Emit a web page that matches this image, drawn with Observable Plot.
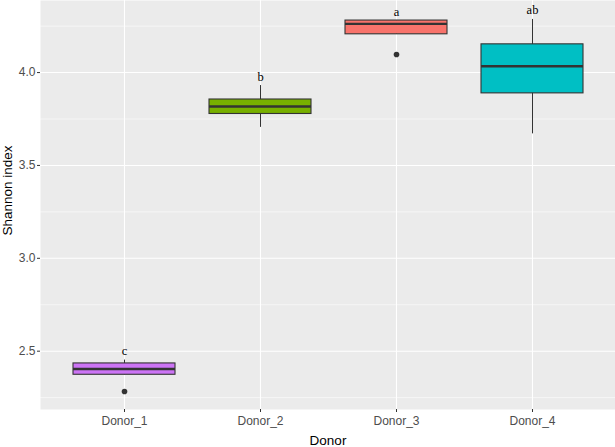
<!DOCTYPE html>
<html>
<head>
<meta charset="utf-8">
<script src="https://cdn.jsdelivr.net/npm/d3@7"></script>
<script src="https://cdn.jsdelivr.net/npm/@observablehq/plot@0.6"></script>
<style>
  html, body { margin: 0; padding: 0; background: #ffffff; }
  #chart svg { display: block; }
</style>
</head>
<body>
<div id="chart"></div>
<script>
// ---- data ----
const donors = ["Donor_1", "Donor_2", "Donor_3", "Donor_4"];
const whiskerLow = [2.373, 3.705, 4.206, 3.670];
const q1 = [2.373, 3.777, 4.206, 3.888];
const median = [2.404, 3.817, 4.262, 4.034];
const q3 = [2.434, 3.855, 4.280, 4.152];
const whiskerHigh = [2.452, 3.930, 4.280, 4.286];
const letters = ["c", "b", "a", "ab"];
const outlierDonor = ["Donor_1", "Donor_3"];
const outlierValue = [2.283, 4.097];
const fillColors = ["#CC74F5", "#78B000", "#F8736B", "#00BFC4"];
const yTicks = [2.5, 3.0, 3.5, 4.0];
const yMinorTicks = [2.25, 2.75, 3.25, 3.75, 4.25];

const boxes = donors.map((d, i) => ({
  donor: d, lo: whiskerLow[i], q1: q1[i], med: median[i], q3: q3[i], hi: whiskerHigh[i],
  letter: letters[i], color: fillColors[i]
}));
const outliers = outlierDonor.map((d, i) => ({donor: d, value: outlierValue[i]}));

const chart = Plot.plot({
  width: 615,
  height: 447,
  marginLeft: 40,
  marginRight: 0,
  marginTop: 0,
  marginBottom: 38,
  style: {fontFamily: "'Liberation Sans', Arial, sans-serif", background: "#ffffff"},
  x: {type: "band", domain: donors, paddingInner: 0.25, paddingOuter: 0.2237, align: 0.5},
  y: {domain: [2.186, 4.388]},
  marks: [
    Plot.frame({fill: "#EBEBEB", stroke: "none"}),
    Plot.ruleY(yMinorTicks, {y: d => d, stroke: "#ffffff", strokeWidth: 0.55}),
    Plot.ruleY(yTicks, {y: d => d, stroke: "#ffffff", strokeWidth: 1.1}),
    Plot.ruleX(donors, {x: d => d, stroke: "#ffffff", strokeWidth: 1.1}),
    Plot.ruleX(boxes, {x: "donor", y1: "lo", y2: "hi", stroke: "#333333", strokeWidth: 1}),
    Plot.barY(boxes, {x: "donor", y1: "q1", y2: "q3", fill: d => d.color, stroke: "#333333", strokeWidth: 1.1}),
    Plot.tickY(boxes, {x: "donor", y: "med", stroke: "#333333", strokeWidth: 2.4}),
    Plot.dot(outliers, {x: "donor", y: "value", r: 2.8, fill: "#333333", stroke: "none"}),
    Plot.text(boxes, {x: "donor", y: "hi", text: "letter", dy: -5, lineAnchor: "bottom",
      fontFamily: "'Liberation Serif', 'Times New Roman', serif", fontSize: 12.5, fill: "#000000"}),
    Plot.axisY({ticks: yTicks, tickFormat: d3.format(".1f"), tickSize: 3, tickPadding: 2,
      stroke: "#333333", color: "#4D4D4D", fontSize: 12, label: null}),
    Plot.axisX({tickSize: 3, tickPadding: 4, stroke: "#333333", color: "#4D4D4D", fontSize: 12, label: null}),
    Plot.text(["Shannon index"], {frameAnchor: "left", textAnchor: "middle", lineAnchor: "middle", rotate: -90,
      dx: -33, dy: -14.5, fontSize: 13.5, fill: "#000000"}),
    Plot.text(["Donor"], {frameAnchor: "bottom", textAnchor: "middle", lineAnchor: "middle", dy: 31, fontSize: 13.5, fill: "#000000"})
  ]
});
document.getElementById("chart").appendChild(chart);
</script>
</body>
</html>
